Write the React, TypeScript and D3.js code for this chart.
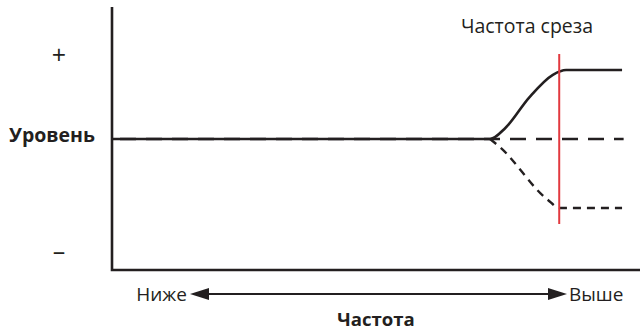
import React from "react";
import * as d3 from "d3";

// frequency on 0..100, level on -1..1
const flatLine = [
  { f: 0, v: 0 },
  { f: 96.9, v: 0 },
];
const boost = [
  { f: 0, v: 0 },
  { f: 71.6, v: 0 },
  { f: 74.5, v: 0.16 },
  { f: 79, v: 0.6 },
  { f: 83.5, v: 0.93 },
  { f: 86, v: 1 },
  { f: 96.6, v: 1 },
];
const cut = [
  { f: 71.6, v: 0 },
  { f: 73.5, v: -0.12 },
  { f: 82.5, v: -0.88 },
  { f: 84.8, v: -1 },
  { f: 96.6, v: -1 },
];
const cutoffFreq = 84.7;
const levelTicks = [
  { v: 1.2, label: "+" },
  { v: -1.64, label: "–" },
];

const W = 643;
const H = 331;

const App = () => {
  const x = d3.scaleLinear().domain([0, 100]).range([112, 640]);
  const y = d3.scaleLinear().domain([-1, 1]).range([208, 70]);
  const font = "'Open Sans', 'Noto Sans', sans-serif";

  const line = d3
    .line<{ f: number; v: number }>()
    .x((d) => x(d.f))
    .y((d) => y(d.v))
    .curve(d3.curveMonotoneX);

  const arrowY = 294;
  const ax0 = 190;
  const ax1 = 567;

  return (
    <div style={{ position: "fixed", left: 0, top: 0, background: "#fff" }}>
      <svg width={W} height={H} style={{ display: "block" }}>
        {/* axes */}
        <path
          d={`M${x(0)},7V${270}H${x(100)}`}
          fill="none"
          stroke="#231f20"
          strokeWidth={2.6}
        />
        {/* flat dashed reference */}
        <path
          d={line(flatLine) || ""}
          fill="none"
          stroke="#231f20"
          strokeWidth={2.4}
          strokeDasharray="16,10"
          strokeDashoffset={-8}
        />
        {/* cut curve */}
        <path
          d={line(cut) || ""}
          fill="none"
          stroke="#231f20"
          strokeWidth={2.4}
          strokeDasharray="8,6"
        />
        {/* boost curve */}
        <path
          d={line(boost) || ""}
          fill="none"
          stroke="#231f20"
          strokeWidth={2.6}
        />
        {/* cutoff marker */}
        <line
          x1={x(cutoffFreq)}
          x2={x(cutoffFreq)}
          y1={54}
          y2={224}
          stroke="#e2393f"
          strokeWidth={2}
        />
        <text x={527} y={33} fontFamily={font} fontSize={19.5} textAnchor="middle" fill="#231f20">
          Частота среза
        </text>

        {/* level labels */}
        {levelTicks.map((t) => (
          <text
            key={t.label}
            x={59}
            y={y(t.v) + 8}
            fontFamily={font}
            fontSize={25}
            textAnchor="middle"
            fill="#231f20"
          >
            {t.label}
          </text>
        ))}
        <text x={52} y={142} fontFamily={font} fontSize={19.5} fontWeight="bold" textAnchor="middle" fill="#231f20">
          Уровень
        </text>

        {/* frequency arrow */}
        <line x1={ax0 + 12} x2={ax1 - 12} y1={arrowY} y2={arrowY} stroke="#231f20" strokeWidth={2.2} />
        <path d={`M${ax0},${arrowY}L${ax0 + 19},${arrowY - 6}V${arrowY + 6}Z`} fill="#231f20" />
        <path d={`M${ax1},${arrowY}L${ax1 - 19},${arrowY - 6}V${arrowY + 6}Z`} fill="#231f20" />
        <text x={187} y={301} fontFamily={font} fontSize={19} textAnchor="end" fill="#231f20">
          Ниже
        </text>
        <text x={569} y={301} fontFamily={font} fontSize={19} textAnchor="start" fill="#231f20">
          Выше
        </text>
        <text x={376} y={326} fontFamily={font} fontSize={18.6} fontWeight="bold" textAnchor="middle" fill="#231f20">
          Частота
        </text>
      </svg>
    </div>
  );
};

export default App;
